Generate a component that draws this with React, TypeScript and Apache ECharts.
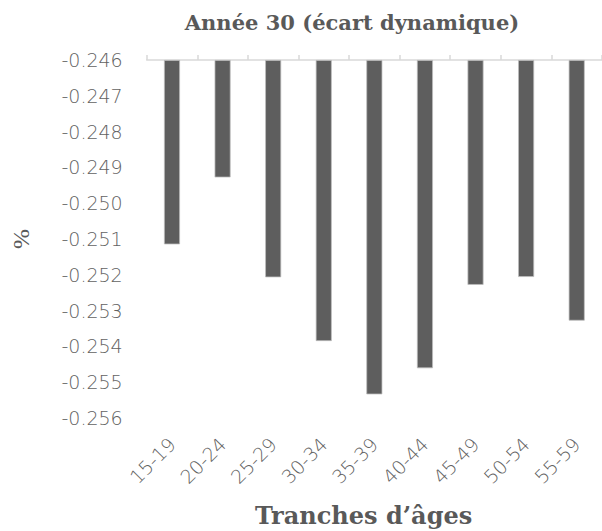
import React, { useEffect, useRef } from "react";
import * as echarts from "echarts";

const categories = ["15-19", "20-24", "25-29", "30-34", "35-39", "40-44", "45-49", "50-54", "55-59"];
const values = [-0.25115, -0.24928, -0.25207, -0.25385, -0.25534, -0.25461, -0.25228, -0.25206, -0.25328];
const yMin = -0.256;
const yMax = -0.246;
const yStep = 0.001;
const title = "Année 30 (écart dynamique)";
const xName = "Tranches d’âges";
const yName = "%";

export default function App() {
  const ref = useRef<HTMLDivElement>(null);
  useEffect(() => {
    const chart = echarts.init(ref.current!, null, { renderer: "svg" });
    const labelFont = { fontFamily: "DejaVu Sans", fontWeight: 200 as any, fontSize: 19, color: "#626262" };
    chart.setOption({
      animation: false,
      title: {
        text: title,
        left: 347,
        top: 7,
        textAlign: "center",
        textStyle: { fontFamily: "DejaVu Serif", fontWeight: "bold", fontSize: 21, color: "#595959" },
      },
      grid: { left: 146.7, right: -6, top: 60, bottom: 113, containLabel: false },
      xAxis: [
        {
          type: "category",
          data: categories,
          position: "top",
          axisLine: { show: true, lineStyle: { color: "#d9d9d9", width: 1.5 } },
          axisTick: { show: true, length: 5, alignWithLabel: false, lineStyle: { color: "#d9d9d9", width: 1.5 } },
          axisLabel: { show: false },
        },
        {
          type: "category",
          data: categories,
          position: "bottom",
          axisLine: { show: false },
          axisTick: { show: false },
          axisLabel: { ...labelFont, rotate: 45, margin: 23, interval: 0 },
        },
      ],
      yAxis: {
        type: "value",
        min: yMin,
        max: yMax,
        interval: yStep,
        startValue: yMax,
        name: yName,
        nameLocation: "middle",
        nameGap: 114,
        nameTextStyle: { fontFamily: "Liberation Serif", fontSize: 24, color: "#595959" },
        axisLine: { show: false },
        axisTick: { show: false },
        splitLine: { show: false },
        axisLabel: { ...labelFont, margin: 24, formatter: (v: number) => v.toFixed(3) },
      },
      graphic: [
        {
          type: "text",
          left: 364 - 109,
          top: 503,
          style: { text: xName, fontFamily: "DejaVu Serif", fontWeight: "bold", fontSize: 24, fill: "#595959" },
        },
      ],
      series: [
        {
          type: "bar",
          xAxisIndex: 0,
          data: values,
          barWidth: 16,
          clip: true,
          itemStyle: { color: "#5e5e5e", borderColor: "#bdbdbd", borderWidth: 0.75 },
        },
      ],
    });
    return () => chart.dispose();
  }, []);
  return <div ref={ref} style={{ width: 602, height: 531, position: "absolute", left: 0, top: 0 }} />;
}
